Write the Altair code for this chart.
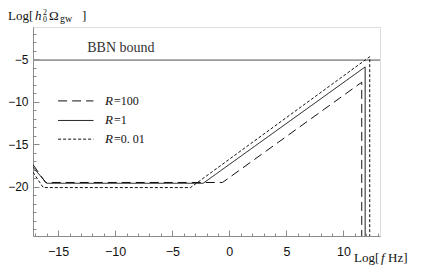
import altair as alt
import pandas as pd

# ---- data ----
x_r100 = [-17.2, -16.1, -0.6, 11.6, 11.6]
y_r100 = [-17.4, -19.5, -19.5, -7.7, -27.0]
x_r1 = [-17.2, -16.0, -2.3, 11.9, 11.9]
y_r1 = [-17.7, -19.6, -19.6, -5.9, -27.0]
x_r001 = [-17.2, -16.3, -3.4, 12.3, 12.3]
y_r001 = [-18.3, -20.1, -20.1, -4.7, -27.0]

series_names = ["R=100", "R=1", "R=0.01"]
series_dash = [[9, 5], [1, 0], [3, 2]]

bbn_value = -5.1
bbn_label = "BBN bound"

x_major = [-15, -10, -5, 0, 5, 10]
x_minor = list(range(-17, 14))
y_major = [-20, -15, -10, -5]
y_minor = list(range(-25, -1))

legend_y = [-9.9, -12.2, -14.4]
legend_x0, legend_x1, legend_tx = -15.0, -11.9, -10.9
legend_rest = ["=100", "=1", "=0. 01"]

# axis title pieces: text, x/y offset (px, relative to plot area), size, italic
ytitle_t = ["Log[", "h", "0", "2", "Ω", "gw", "]"]
ytitle_px = [-25, 2, 10, 10, 16, 27, 49]
ytitle_py = [-11, -11, -7, -14.5, -11, -8, -11]
ytitle_fs = [13, 13, 8, 8, 13, 10, 13]
ytitle_it = [False, True, False, False, False, False, False]

xtitle_t = ["Log[", "f", "Hz]"]
xtitle_px = [321, 348, 355]
xtitle_py = [231, 231, 231]
xtitle_fs = [13, 13, 13]
xtitle_it = [False, True, False]

XDOM = [-17.2, 13.2]
YDOM = [-25.8, -1.2]

AX = "#8a8a8a"
TICKF = "Liberation Sans"
SERIF = "Liberation Serif"

xs = alt.Scale(domain=XDOM, nice=False, zero=False)
ys = alt.Scale(domain=YDOM, nice=False, zero=False)


def mk_df(xv, yv):
    return pd.DataFrame({"x": xv, "y": yv, "i": list(range(len(xv)))})


base_axes = alt.Chart(pd.DataFrame({"x": [XDOM[0]], "y": [YDOM[0]]})).mark_point(opacity=0).encode(
    x=alt.X("x:Q", scale=xs, axis=alt.Axis(values=x_major, title=None, grid=False,
                                           domainColor=AX, tickColor=AX, tickSize={"expr": "-6"},
                                           labelFont=TICKF, labelFontSize=12.5, labelColor="#111",
                                           labelPadding=15, orient="bottom")),
    y=alt.Y("y:Q", scale=ys, axis=alt.Axis(values=y_major, title=None, grid=False,
                                           domainColor=AX, tickColor=AX, tickSize={"expr": "-6"},
                                           labelFont=TICKF, labelFontSize=12, labelColor="#111",
                                           labelPadding=11, orient="left")),
)

minor_axes = alt.Chart(pd.DataFrame({"x": [XDOM[0]], "y": [YDOM[0]]})).mark_point(opacity=0).encode(
    x=alt.X("x:Q", scale=xs, axis=alt.Axis(values=x_minor, title=None, grid=False, labels=False,
                                           domain=False, tickColor=AX, tickSize={"expr": "-3"},
                                           orient="bottom")),
    y=alt.Y("y:Q", scale=ys, axis=alt.Axis(values=y_minor, title=None, grid=False, labels=False,
                                           domain=False, tickColor=AX, tickSize={"expr": "-3"},
                                           orient="left")),
)

bbn = alt.Chart(pd.DataFrame({"y": [bbn_value]})).mark_rule(color="#9a9a9a", strokeWidth=1.6).encode(
    y=alt.Y("y:Q", scale=ys, axis=None))

bbn_txt = alt.Chart(pd.DataFrame({"x": [-9.5], "y": [-3.7], "t": [bbn_label]})).mark_text(
    font=SERIF, fontSize=14, color="#333", align="center", baseline="middle").encode(
    x=alt.X("x:Q", scale=xs, axis=None), y=alt.Y("y:Q", scale=ys, axis=None), text="t:N")

curves = []
for xv, yv, dash in zip([x_r100, x_r1, x_r001], [y_r100, y_r1, y_r001], series_dash):
    curves.append(alt.Chart(mk_df(xv, yv)).mark_line(color="#111", strokeWidth=1.0, strokeDash=dash,
                                                      clip=True).encode(
        x=alt.X("x:Q", scale=xs, axis=None), y=alt.Y("y:Q", scale=ys, axis=None),
        order="i:Q"))

leg = []
for ly, dash, rest in zip(legend_y, series_dash, legend_rest):
    d = pd.DataFrame({"x": [legend_x0], "x2": [legend_x1], "y": [ly], "tx": [legend_tx],
                      "r": ["R"], "rest": [rest]})
    leg.append(alt.Chart(d).mark_rule(color="#111", strokeWidth=1.0, strokeDash=dash).encode(
        x=alt.X("x:Q", scale=xs, axis=None), x2="x2:Q", y=alt.Y("y:Q", scale=ys, axis=None)))
    leg.append(alt.Chart(d).mark_text(font=SERIF, fontSize=13, fontStyle="italic", align="left",
                                      baseline="middle", color="#111").encode(
        x=alt.X("tx:Q", scale=xs, axis=None), y=alt.Y("y:Q", scale=ys, axis=None), text="r:N"))
    leg.append(alt.Chart(d).mark_text(font=SERIF, fontSize=12, align="left", baseline="middle",
                                      dx=9, color="#111").encode(
        x=alt.X("tx:Q", scale=xs, axis=None), y=alt.Y("y:Q", scale=ys, axis=None), text="rest:N"))

titles = []
for t, px, py, fs, it in list(zip(ytitle_t, ytitle_px, ytitle_py, ytitle_fs, ytitle_it)) + \
        list(zip(xtitle_t, xtitle_px, xtitle_py, xtitle_fs, xtitle_it)):
    titles.append(alt.Chart(pd.DataFrame({"t": [t]})).mark_text(
        font=SERIF, fontSize=fs, fontStyle="italic" if it else "normal", align="left",
        baseline="middle", color="#111").encode(
        x=alt.value(px), y=alt.value(py), text="t:N"))

chart = alt.layer(minor_axes, base_axes, bbn, bbn_txt, *curves, *leg, *titles).resolve_axis(
    x="independent", y="independent").properties(
    width=347, height=209,
    autosize=alt.AutoSizeParams(type="none"),
    padding={"left": 25, "top": 19, "right": 41, "bottom": 29},
).configure_view(stroke=None).configure(background="white")

chart.save("out.html", embed_options={"renderer": "svg", "actions": False})
